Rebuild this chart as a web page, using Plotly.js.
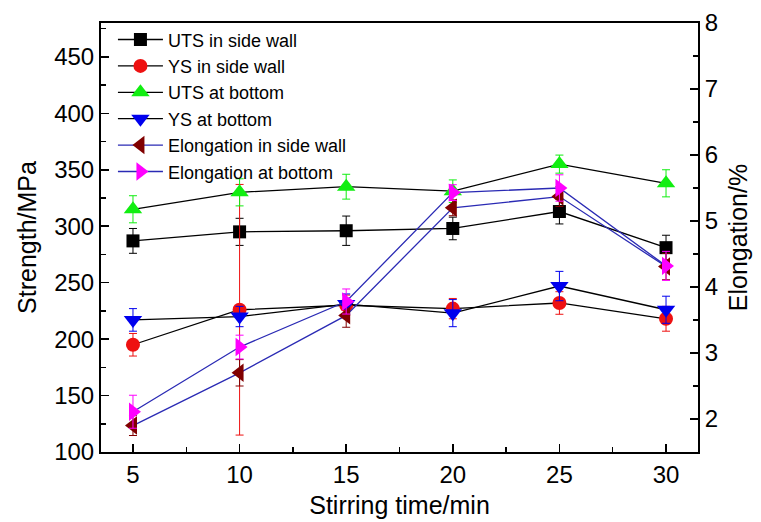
<!DOCTYPE html>
<html>
<head>
<meta charset="utf-8">
<script src="https://cdn.plot.ly/plotly-3.0.1.min.js"></script>
<style>html,body{margin:0;padding:0;background:#fff;}#chart{width:761px;height:522px;}</style>
</head>
<body>
<div id="chart"></div>
<script>
// Stirring time (min)
const stirTime = [5, 10, 15, 20, 25, 30];

// Strength (MPa), left axis
const utsSideWall    = [287, 295, 296, 298, 313, 281];
const utsSideWallErr = [11, 12, 13, 10, 11, 11];
const ysSideWall     = [195, 226, 230, 227, 232, 218];
const ysSideWallErr  = [10, 111, 9, 9, 10, 11];
const utsBottom      = [315, 330, 335, 331, 355, 338];
const utsBottomErr   = [12, 12, 11, 10, 8, 12];
const ysBottom       = [217, 220, 231, 223, 247, 226];
const ysBottomErr    = [10, 9, 9, 12, 13, 12];

// Elongation (%), right axis
const elongSideWall    = [1.90, 2.70, 3.57, 5.20, 5.37, 4.31];
const elongSideWallErr = [0.15, 0.2, 0.18, 0.12, 0.15, 0.2];
const elongBottom      = [2.11, 3.09, 3.78, 5.43, 5.50, 4.32];
const elongBottomErr   = [0.25, 0.18, 0.19, 0.12, 0.2, 0.22];

const seriesNames = ["UTS in side wall", "YS in side wall", "UTS at bottom", "YS at bottom",
                     "Elongation in side wall", "Elongation at bottom"];

function tr(name, y, err, color, symbol, lineColor, axis, size) {
  return {
    x: stirTime, y: y, name: name, type: 'scatter', mode: 'lines+markers',
    yaxis: axis,
    line: {color: lineColor, width: 1.3},
    marker: {color: color, symbol: symbol, size: size},
    error_y: {type: 'data', array: err, visible: true, color: color, thickness: 1, width: 4}
  };
}

const data = [
  tr(seriesNames[0], utsSideWall, utsSideWallErr, '#000000', 'square', '#000000', 'y', 13),
  tr(seriesNames[1], ysSideWall, ysSideWallErr, '#ee1111', 'circle', '#000000', 'y', 14),
  tr(seriesNames[2], utsBottom, utsBottomErr, '#11ee11', 'triangle-up', '#000000', 'y', 16),
  tr(seriesNames[3], ysBottom, ysBottomErr, '#0000ee', 'triangle-down', '#000000', 'y', 16),
  tr(seriesNames[4], elongSideWall, elongSideWallErr, '#800000', 'triangle-left', '#2a2ab4', 'y2', 16),
  tr(seriesNames[5], elongBottom, elongBottomErr, '#ff00ff', 'triangle-right', '#2a2ab4', 'y2', 16)
];

const FONT = 'Arial, "Liberation Sans", sans-serif';

const layout = {
  width: 761, height: 522,
  margin: {l: 101, r: 63, t: 23, b: 70},
  paper_bgcolor: '#ffffff', plot_bgcolor: '#ffffff',
  font: {family: FONT, color: '#000', size: 24},
  showlegend: true,
  legend: {
    x: 0.02, y: 1.004, xanchor: 'left', yanchor: 'top',
    bgcolor: 'rgba(0,0,0,0)', borderwidth: 0,
    font: {family: FONT, size: 18, color: '#000'},
    tracegroupgap: 0, itemwidth: 45
  },
  xaxis: {
    range: [3.5, 31.5], tickvals: stirTime, ticktext: stirTime.map(String),
    showgrid: false, zeroline: false,
    showline: true, linecolor: '#000', linewidth: 2, mirror: true,
    ticks: 'inside', ticklen: 8, tickwidth: 1.5, tickcolor: '#000',
    minor: {ticks: 'inside', ticklen: 5, tickwidth: 1.5, dtick: 2.5, tick0: 2.5, tickcolor: '#000', showgrid: false},
    tickfont: {family: FONT, size: 24},
    title: {text: 'Stirring time/min', font: {family: FONT, size: 25}, standoff: 10}
  },
  yaxis: {
    range: [100, 480], tickmode: 'linear', tick0: 100, dtick: 50,
    showgrid: false, zeroline: false,
    showline: true, linecolor: '#000', linewidth: 2,
    ticks: 'inside', ticklen: 8, tickwidth: 1.5, tickcolor: '#000',
    minor: {ticks: 'inside', ticklen: 5, tickwidth: 1.5, dtick: 25, tick0: 100, tickcolor: '#000', showgrid: false},
    tickfont: {family: FONT, size: 24},
    title: {text: 'Strength/MPa', font: {family: FONT, size: 25}, standoff: 10}
  },
  yaxis2: {
    range: [1.5, 8], tickmode: 'linear', tick0: 2, dtick: 1,
    overlaying: 'y', side: 'right',
    showgrid: false, zeroline: false,
    showline: true, linecolor: '#000', linewidth: 2,
    ticks: 'inside', ticklen: 8, tickwidth: 1.5, tickcolor: '#000',
    minor: {ticks: 'inside', ticklen: 5, tickwidth: 1.5, dtick: 0.5, tick0: 1.5, tickcolor: '#000', showgrid: false},
    tickfont: {family: FONT, size: 24},
    title: {text: 'Elongation/%', font: {family: FONT, size: 25}, standoff: 12}
  }
};

Plotly.newPlot('chart', data, layout, {displayModeBar: false, staticPlot: true});
</script>
</body>
</html>
